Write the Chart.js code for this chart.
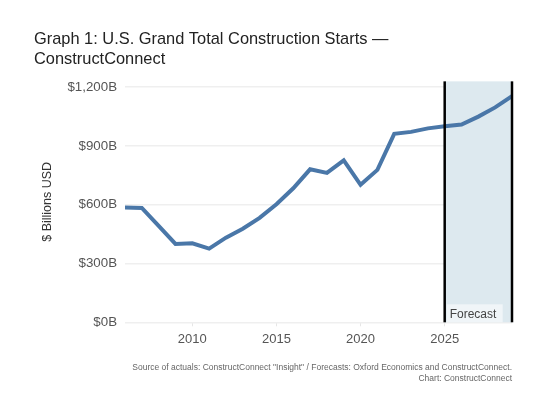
<!DOCTYPE html>
<html>
<head>
<meta charset="utf-8">
<script src="https://cdn.jsdelivr.net/npm/chart.js@4"></script>
<style>
  html, body { margin: 0; padding: 0; background: #fff; }
  #wrap { position: relative; width: 545px; height: 403px; }
</style>
</head>
<body>
<div id="wrap"><canvas id="myChart"></canvas></div>
<script>
// values, $ billions
const years = [2006, 2007, 2008, 2009, 2010, 2011, 2012, 2013, 2014, 2015, 2016, 2017,
               2018, 2019, 2020, 2021, 2022, 2023, 2024, 2025, 2026, 2027, 2028, 2029];
const starts = [586, 584, 492, 400, 403, 376, 432, 478, 533, 603, 684, 781,
                763, 827, 702, 778, 962, 972, 990, 1001, 1010, 1050, 1097, 1155];
const xTicks = [2010, 2015, 2020, 2025];
const yTicks = [0, 300, 600, 900, 1200];
const forecastFrom = 2025;
const forecastTo = 2029;

const FONT = '"Liberation Sans", Arial, sans-serif';

const forecastBand = {
  id: 'forecastBand',
  beforeDatasetsDraw(chart) {
    const {ctx, chartArea, scales: {x}} = chart;
    const x0 = x.getPixelForValue(forecastFrom);
    const x1 = x.getPixelForValue(forecastTo);
    ctx.save();
    ctx.fillStyle = '#dde9ef';
    ctx.fillRect(x0, chartArea.top, x1 - x0, chartArea.bottom - chartArea.top);
    // label box
    ctx.fillStyle = 'rgba(255,255,255,0.55)';
    ctx.fillRect(x0 + 2, chartArea.bottom - 18, 56, 18);
    ctx.fillStyle = '#444';
    ctx.font = '12px ' + FONT;
    ctx.textBaseline = 'middle';
    ctx.fillText('Forecast', x0 + 5, chartArea.bottom - 8);
    ctx.restore();
  },
  afterDatasetsDraw(chart) {
    const {ctx, chartArea, scales: {x}} = chart;
    ctx.save();
    ctx.strokeStyle = '#000';
    ctx.lineWidth = 2.5;
    [forecastFrom, forecastTo].forEach(v => {
      const px = x.getPixelForValue(v);
      ctx.beginPath();
      ctx.moveTo(px, chartArea.top);
      ctx.lineTo(px, chartArea.bottom);
      ctx.stroke();
    });
    ctx.restore();
  }
};

const ctx = document.getElementById('myChart');

const myChart = new Chart(ctx, {
  type: 'line',
  data: {
    labels: years,
    datasets: [{
      data: years.map((y, i) => ({x: y, y: starts[i]})),
      borderColor: '#4a77a8',
      borderWidth: 4,
      pointRadius: 0,
      tension: 0,
      fill: false
    }]
  },
  plugins: [forecastBand],
  options: {
    responsive: true,
    maintainAspectRatio: false,
    animation: false,
    layout: { padding: { left: 34, right: 33, top: 0, bottom: 5 } },
    plugins: {
      legend: { display: false },
      tooltip: { enabled: false },
      title: {
        display: true,
        text: ['Graph 1: U.S. Grand Total Construction Starts \u2014', 'ConstructConnect'],
        align: 'start',
        color: '#222',
        font: { family: FONT, size: 16.4, weight: 'normal', lineHeight: 1.2 },
        padding: { top: 30, bottom: 12 }
      },
      subtitle: {
        display: true,
        position: 'bottom',
        align: 'end',
        text: ['Source of actuals: ConstructConnect "Insight" / Forecasts: Oxford Economics and ConstructConnect.',
               'Chart: ConstructConnect'],
        color: '#666',
        font: { family: FONT, size: 8.5, lineHeight: 1.3 },
        padding: { top: 10, bottom: 14 }
      }
    },
    scales: {
      x: {
        type: 'linear',
        min: 2006,
        max: 2029,
        afterBuildTicks: scale => { scale.ticks = xTicks.map(v => ({value: v})); },
        border: { display: false },
        grid: { drawOnChartArea: false, color: '#e6e6e6', tickLength: 4 },
        ticks: {
          color: '#555',
          font: { family: FONT, size: 13 },
          padding: 5,
          maxRotation: 0,
          callback: v => String(v)
        }
      },
      y: {
        min: 0,
        max: 1230,
        afterBuildTicks: scale => { scale.ticks = yTicks.map(v => ({value: v})); },
        afterFit: scale => { scale.width = 91; },
        border: { display: false },
        grid: { color: '#efefef', lineWidth: 1.5, drawTicks: false },
        title: {
          display: true,
          text: '$ Billions USD',
          color: '#333',
          font: { family: FONT, size: 12.5 },
          padding: { top: 6, bottom: 0 }
        },
        ticks: {
          color: '#555',
          font: { family: FONT, size: 13.3 },
          padding: 8,
          callback: v => '$' + v.toLocaleString('en-US') + 'B'
        }
      }
    }
  }
});
</script>
</body>
</html>
